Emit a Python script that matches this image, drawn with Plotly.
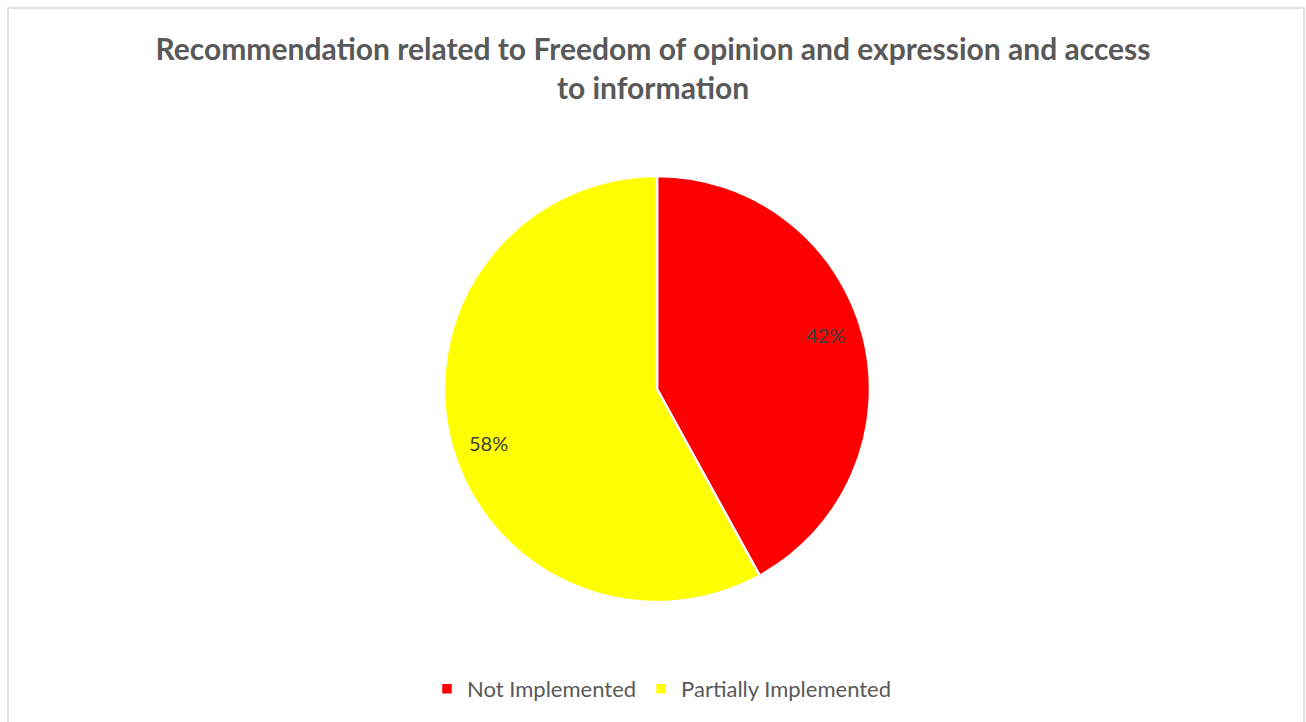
import math
import plotly.graph_objects as go

# Share of recommendations by implementation status
categories = ["Not Implemented", "Partially Implemented"]
shares = [42, 58]
colors = ["#FF0000", "#FFFF00"]
title_text = "Recommendation related to Freedom of opinion and expression and access<br>to information"

W, H = 1306, 722
cx, cy, R = 657, 389, 213  # pie centre and radius, in pixels

dom_x = [(cx - R) / W, (cx + R) / W]
dom_y = [1 - (cy + R) / H, 1 - (cy - R) / H]

fig = go.Figure(
    go.Pie(
        labels=categories,
        values=shares,
        marker=dict(colors=colors, line=dict(color="white", width=2.5)),
        sort=False,
        direction="clockwise",
        rotation=0,
        textinfo="none",
        hoverinfo="label+percent",
        domain=dict(x=dom_x, y=dom_y),
    )
)

# Percentage labels placed near the rim along each slice's mid-angle
total = sum(shares)
start = 0.0
for v in shares:
    mid = start + v / total * 360 / 2 - 3.5
    start += v / total * 360
    ang = math.radians(mid)
    px = cx + 0.83 * R * math.sin(ang)
    py = cy - 0.83 * R * math.cos(ang)
    fig.add_annotation(
        x=px / W, y=1 - py / H, xref="paper", yref="paper",
        text=f"{round(v / total * 100)}%", showarrow=False,
        font=dict(family="Lato", size=20, color="#404040"),
        xanchor="center", yanchor="middle",
    )

# Outer chart border
fig.add_shape(
    type="rect", xref="paper", yref="paper",
    x0=8 / W, x1=1304 / W, y0=-0.05, y1=1 - 8 / H,
    line=dict(color="#D9D9D9", width=1.5), fillcolor="rgba(0,0,0,0)",
)

fig.update_layout(
    width=W, height=H,
    margin=dict(l=0, r=0, t=0, b=0),
    paper_bgcolor="white",
    plot_bgcolor="white",
    title=dict(
        text=f"<b>{title_text}</b>",
        x=0.5, xanchor="center",
        y=1 - 60 / H, yanchor="top",
        font=dict(family="Lato", size=30, color="#595959"),
    ),
    legend=dict(
        orientation="h",
        x=662 / W, xanchor="center",
        y=1 - 689 / H, yanchor="middle",
        font=dict(family="Lato", size=22, color="#595959"),
        itemwidth=30,
    ),
)

fig.write_html("out.html")
